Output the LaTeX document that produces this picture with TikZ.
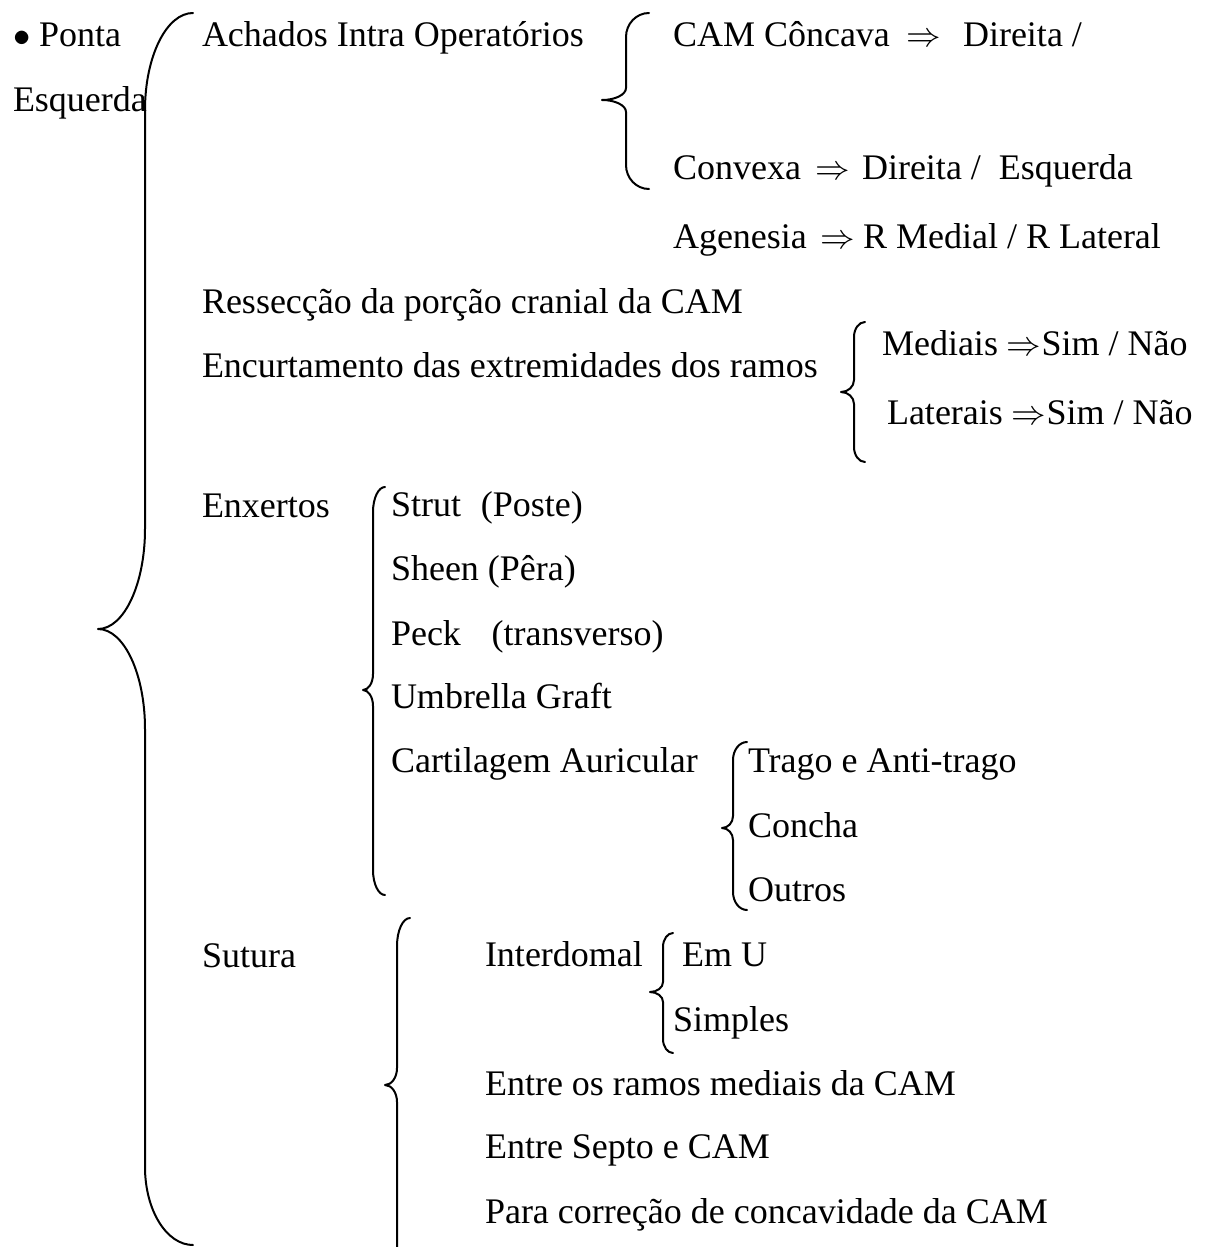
\documentclass[tikz,border=0pt]{standalone}
\usepackage{fontspec}
\setmainfont{Liberation Serif}
% xe xv xtip ytop ymid ybot ctop cmid cbot
\newcommand\wbrace[9]{%
  \draw[bracestyle] (#1,#4) .. controls ({#1-0.552*(#1-#2)},#4) and (#2,{#4+0.448*#7}) .. (#2,{#4+#7})
   -- (#2,{#5-#8}) .. controls (#2,{#5-0.448*#8}) and ({#3+0.552*(#2-#3)},#5) .. (#3,#5)
   .. controls ({#3+0.552*(#2-#3)},#5) and (#2,{#5+0.448*#8}) .. (#2,{#5+#8})
   -- (#2,{#6-#9}) .. controls (#2,{#6-0.448*#9}) and ({#1-0.552*(#1-#2)},#6) .. (#1,#6);}
\begin{document}
\begin{tikzpicture}[x=0.6pt,y=-0.6pt,
  txt/.style={anchor=base west,inner sep=0pt,outer sep=0pt,font=\fontsize{21.6pt}{26pt}\selectfont},
  bracestyle/.style={line width=1.2pt,line cap=round,line join=round}]
\useasboundingbox (0,0) rectangle (1211,1247);
\clip (0,0) rectangle (1211,1247);
\node[txt] (bul) at (13,47) {$\bullet$};
\node[txt] (ponta) at (39,47) {Ponta};
\node[txt] (esq) at (13,112) {Esquerda};
\node[txt] (ach) at (202,47) {Achados Intra Operatórios};
\node[txt] (cam1) at (673,47) {CAM Côncava};
\node[txt] (arr1) at (906,47) {$\Rightarrow$};
\node[txt] (cam2) at (963,47) {Direita /};
\node[txt] (cvx1) at (673,180) {Convexa};
\node[txt] (arr2) at (815,180) {$\Rightarrow$};
\node[txt] (cvx2) at (862,180) {Direita /\hspace{0.5em}Esquerda};
\node[txt] (age1) at (673,248) {Agenesia};
\node[txt] (arr3) at (820,248) {$\Rightarrow$};
\node[txt] (age2) at (863,248) {R Medial / R Lateral};
\node[txt] (res) at (202,313) {Ressecção da porção cranial da CAM};
\node[txt] (enc) at (202,377) {Encurtamento das extremidades dos ramos};
\node[txt] (med) at (882,355) {Mediais $\Rightarrow$Sim / Não};
\node[txt] (lat) at (887,424) {Laterais $\Rightarrow$Sim / Não};
\node[txt] (enx) at (202,517) {Enxertos};
\node[txt] (strut) at (391,516) {Strut\hspace{0.55em}(Poste)};
\node[txt] (sheen) at (391,580) {Sheen (Pêra)};
\node[txt] (peck) at (391,645) {Peck\hspace{0.85em}(transverso)};
\node[txt] (umb) at (391,708) {Umbrella Graft};
\node[txt] (cart) at (391,772) {Cartilagem Auricular};
\node[txt] (trago) at (748,772) {Trago e Anti-trago};
\node[txt] (concha) at (748,837) {Concha};
\node[txt] (outros) at (748,901) {Outros};
\node[txt] (sut) at (202,967) {Sutura};
\node[txt] (inter) at (485,966) {Interdomal};
\node[txt] (emu) at (682,966) {Em U};
\node[txt] (simp) at (673,1031) {Simples};
\node[txt] (ramos) at (485,1095) {Entre os ramos mediais da CAM};
\node[txt] (septo) at (485,1158) {Entre Septo e CAM};
\node[txt] (para) at (485,1223) {Para correção de concavidade da CAM};
\wbrace{193}{145}{98}{13}{629}{1245}{97}{100}{78}
\wbrace{649}{626}{602}{13}{100}{189}{24}{12}{24}
\wbrace{865}{854}{841}{322}{392}{462}{15}{12}{15}
\wbrace{385}{373}{363}{487}{690}{895}{25}{16}{25}
\wbrace{747}{733}{722}{742}{828}{910}{18}{12}{18}
\wbrace{410}{397}{385}{918}{1085}{1275}{28}{17}{28}
\wbrace{673}{663}{650}{933}{992}{1053}{14}{10}{14}
\end{tikzpicture}
\end{document}
